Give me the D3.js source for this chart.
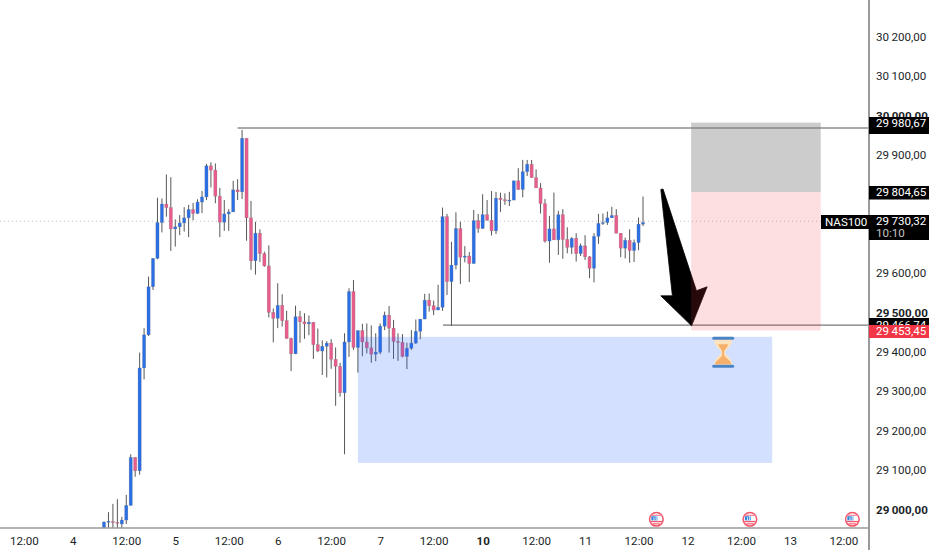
<!DOCTYPE html>
<html><head><meta charset="utf-8">
<script src="https://cdn.jsdelivr.net/npm/d3@7/dist/d3.min.js"></script>
<style>html,body{margin:0;padding:0;background:#fff;overflow:hidden}svg{display:block}text{font-family:Roboto,sans-serif}</style>
</head><body><svg id="c" width="932" height="550"></svg>
<script>
const opens=[28952,28967,28968,28966,28962,28972,29009,29131,29097,29358,29442,29564,29636,29727,29774,29765,29711,29716,29726,29739,29760,29750,29779,29792,29871,29860,29794,29728,29749,29754,29810,29805,29941,29739,29630,29700,29648,29617,29499,29484,29517,29478,29433,29394,29488,29475,29470,29474,29417,29401,29413,29421,29380,29362,29295,29424,29552,29410,29453,29424,29409,29393,29398,29464,29492,29459,29425,29423,29387,29408,29421,29451,29482,29530,29516,29505,29512,29742,29577,29619,29712,29639,29642,29623,29732,29712,29747,29733,29706,29789,29785,29782,29784,29833,29811,29856,29875,29841,29815,29775,29680,29711,29683,29747,29684,29664,29687,29648,29668,29640,29611,29692,29725,29727,29739,29745,29700,29662,29682,29656,29676,29723];
const closes=[28967,28969,28966,28964,28972,29009,29131,29097,29358,29442,29564,29636,29727,29774,29765,29711,29716,29726,29739,29760,29750,29779,29792,29871,29860,29794,29728,29749,29754,29810,29805,29941,29739,29630,29700,29648,29617,29499,29484,29517,29478,29433,29394,29488,29475,29470,29474,29417,29401,29413,29421,29380,29362,29295,29424,29552,29410,29453,29424,29409,29393,29398,29464,29492,29459,29425,29423,29387,29408,29421,29451,29482,29530,29516,29505,29512,29742,29577,29619,29712,29639,29642,29623,29732,29712,29747,29733,29706,29789,29785,29782,29784,29833,29811,29856,29875,29841,29815,29775,29680,29711,29683,29747,29684,29664,29687,29648,29668,29640,29611,29692,29725,29727,29739,29745,29700,29662,29682,29656,29676,29723,29727];
const highs=[28968,28992,29013,29025,28980,29036,29139,29131,29397,29459,29590,29637,29790,29788,29849,29842,29735,29746,29766,29772,29777,29786,29807,29876,29880,29877,29815,29784,29761,29833,29837,29962,29941,29782,29729,29710,29653,29669,29509,29573,29545,29503,29435,29516,29503,29497,29491,29474,29458,29428,29426,29431,29410,29371,29446,29560,29581,29453,29470,29471,29466,29446,29471,29501,29515,29480,29446,29444,29422,29454,29481,29482,29546,29547,29529,29569,29765,29749,29678,29753,29729,29667,29652,29759,29749,29799,29784,29807,29805,29803,29801,29805,29833,29865,29886,29886,29886,29862,29827,29787,29744,29803,29757,29761,29715,29690,29700,29674,29695,29642,29700,29749,29750,29755,29767,29761,29700,29689,29710,29684,29740,29793];
const lows=[28945,28945,28940,28940,28952,28962,29009,29082,29087,29329,29439,29556,29634,29702,29742,29655,29666,29695,29704,29690,29733,29749,29751,29784,29816,29776,29690,29706,29706,29754,29784,29787,29681,29607,29595,29627,29615,29486,29423,29459,29463,29432,29350,29393,29422,29432,29441,29381,29398,29340,29334,29356,29262,29285,29139,29386,29404,29346,29388,29395,29371,29375,29393,29454,29397,29381,29376,29385,29355,29404,29419,29431,29482,29501,29492,29505,29503,29543,29465,29608,29571,29626,29576,29623,29701,29711,29732,29694,29698,29754,29772,29769,29784,29810,29791,29845,29841,29815,29750,29676,29625,29683,29645,29635,29649,29647,29628,29642,29632,29586,29575,29673,29721,29721,29739,29700,29639,29636,29625,29627,29657,29718];
const visiblePriceTicks=[30200,30100,30000,29900,29600,29500,29400,29300,29200,29100,29000];
const boldPrices=[30000,29500,29000];
const timeTickIdx=[-18,-7,5,16,28,39,51,62,74,85,97,108,120,131,143,154,166];
const timeTickLabels=["12:00","4","12:00","5","12:00","6","12:00","7","12:00","10","12:00","11","12:00","12","12:00","13","12:00"];
const boldTimes=["10"];
const earningsIdx=[124,145,168];
const takeProfit=29453.45, entry=29804.65, stop=29980.67, last=29730.32, hidden=29466.74, upperLine=29967;
const zoneTop=29437, zoneBottom=29117;
const arrowPts=[[125,29811],[125.5,29812],[133,29554],[135.4,29564],[131.9,29465],[125,29541],[127.6,29541]];

const W=932,H=550,plotR=869,plotB=528;
const FONT='Roboto,sans-serif',FS=11.6,LS='0px';
const x=d3.scaleLinear().domain([0,121]).range([104,643]);
const y=d3.scaleLinear().domain([29000,30200]).range([509,36.2]);
const svg=d3.select('#c');
const fmt=v=>{const s=v.toFixed(2).replace('.',',');return s.slice(0,2)+'\u2009'+s.slice(2);};
svg.append('defs').append('clipPath').attr('id','pl').append('rect').attr('width',plotR).attr('height',plotB);
const p=svg.append('g').attr('clip-path','url(#pl)');
p.append('line').attr('x1',0).attr('x2',plotR).attr('y1',y(last)).attr('y2',y(last)).attr('stroke','#c4c4c8').attr('stroke-width',1).attr('stroke-dasharray','1 3');
const idx=d3.range(opens.length);
const c=p.append('g').selectAll('g').data(idx).join('g');
c.append('line').attr('x1',i=>x(i)).attr('x2',i=>x(i)).attr('y1',i=>y(highs[i])).attr('y2',i=>y(lows[i])).attr('stroke','#565658').attr('stroke-width',1);
c.append('rect').attr('x',i=>x(i)-1.6).attr('width',3.2)
 .attr('y',i=>y(Math.max(opens[i],closes[i])))
 .attr('height',i=>Math.max(1,Math.abs(y(opens[i])-y(closes[i]))))
 .attr('fill',i=>closes[i]>=opens[i]?'#2b6fe6':'#e85c8e')
 .attr('stroke','rgba(110,110,110,.45)').attr('stroke-width',.5);
p.append('line').attr('x1',x(30)).attr('x2',plotR).attr('y1',y(upperLine)).attr('y2',y(upperLine)).attr('stroke','#555').attr('stroke-width',1);
p.append('line').attr('x1',x(76.1)).attr('x2',plotR).attr('y1',y(hidden)).attr('y2',y(hidden)).attr('stroke','#555').attr('stroke-width',1);
p.append('polygon').attr('points',arrowPts.map(d=>[x(d[0]),y(d[1])].join(',')).join(' ')).attr('fill','#000').attr('stroke','#000').attr('stroke-width',.8).attr('stroke-linejoin','round');
const zx0=x(131.8),zx1=x(160.9);
p.append('rect').attr('x',zx0).attr('width',zx1-zx0).attr('y',y(stop)).attr('height',y(entry)-y(stop)).attr('fill','rgba(120,120,120,.38)');
p.append('rect').attr('x',zx0).attr('width',zx1-zx0).attr('y',y(entry)).attr('height',y(takeProfit)-y(entry)).attr('fill','rgba(242,54,69,.16)');
p.append('rect').attr('x',x(57)).attr('width',x(150)-x(57)).attr('y',y(zoneTop)).attr('height',y(zoneBottom)-y(zoneTop)).attr('fill','rgba(41,98,255,.2)');
const hg=p.append('g').attr('transform',`translate(${x(139.0)},${y(29398)})`);
hg.append('path').attr('d','M-9,-13 H9 C9,-5 2,-3 2,0 C2,3 9,6 9,13 H-9 C-9,6 -2,3 -2,0 C-2,-3 -9,-5 -9,-13Z').attr('fill','#fde3bd');
hg.append('path').attr('d','M-5,-8 H5 C4,-4 1,-3 1,0 L1,3 C2,6 8,8 8,12 H-8 C-8,8 -2,6 -1,3 L-1,0 C-1,-3 -4,-4 -5,-8Z').attr('fill','#f7b06b');
hg.append('rect').attr('x',-11).attr('y',-15.5).attr('width',22).attr('height',3).attr('rx',1.5).attr('fill','#4a84c4');
hg.append('rect').attr('x',-11).attr('y',12.5).attr('width',22).attr('height',3).attr('rx',1.5).attr('fill','#4a84c4');
const e=p.append('g').selectAll('g').data(earningsIdx).join('g').attr('transform',d=>`translate(${x(d)},519.3)`);
e.append('circle').attr('r',6.8).attr('fill','#fff').attr('stroke','#f4556a').attr('stroke-width',1.5);
e.append('rect').attr('x',-5.4).attr('y',-4.6).attr('width',10.8).attr('height',1.2).attr('fill','#f4869a');
e.append('rect').attr('x',-5.6).attr('y',1.6).attr('width',11.2).attr('height',1.3).attr('fill','#f4556a');
e.append('rect').attr('x',-3.6).attr('y',4).attr('width',7.2).attr('height',1.1).attr('fill','#f4556a');
e.append('rect').attr('x',-5).attr('y',-3).attr('width',6).attr('height',4).attr('fill','#2f7fd8');
e.append('rect').attr('x',-3).attr('y',-2).attr('width',1.2).attr('height',3).attr('fill','#cfe4fb');
e.append('rect').attr('x',-.8).attr('y',-3.5).attr('width',1.2).attr('height',4.5).attr('fill','#cfe4fb');
svg.append('line').attr('x1',0).attr('x2',plotR).attr('y1',plotB).attr('y2',plotB).attr('stroke','#9a9a9a').attr('stroke-width',1.4);
svg.append('line').attr('x1',plotR).attr('x2',plotR).attr('y1',0).attr('y2',H).attr('stroke','#9a9a9a').attr('stroke-width',2);
const ax=svg.append('g').attr('transform',`translate(0,${plotB})`).call(d3.axisBottom(x).tickValues(timeTickIdx).tickSize(0).tickPadding(5).tickFormat((d,i)=>timeTickLabels[i]));
ax.select('.domain').remove();
ax.selectAll('text').attr('font-family',FONT).attr('font-size',FS).attr('letter-spacing',LS).attr('fill','#1c1f28').attr('dy','1.05em').attr('font-weight',(d,i)=>boldTimes.includes(timeTickLabels[i])?700:400);
const ay=svg.append('g').attr('transform',`translate(${plotR},0)`).call(d3.axisRight(y).tickValues(visiblePriceTicks).tickSize(0).tickPadding(7).tickFormat(fmt));
ay.select('.domain').remove();
ay.selectAll('text').attr('font-family',FONT).attr('font-size',FS).attr('letter-spacing',LS).attr('fill','#1c1f28').attr('dy','0.36em').attr('font-weight',d=>boldPrices.includes(d)?700:400);
function tag(v,yTop,h,fill){
  const g=svg.append('g');
  g.append('rect').attr('x',plotR).attr('y',yTop).attr('width',60).attr('height',h).attr('fill',fill);
  g.append('text').attr('x',plotR+7).attr('y',y(v)+4.2).attr('font-size',FS).attr('letter-spacing',LS).attr('fill','#fff').text(fmt(v));
  return g;
}
tag(stop,117,17,'#000');
tag(entry,186,13.5,'#000');
tag(hidden,318,8,'#000');
tag(takeProfit,325,13,'#f23645');
const lg=tag(last,215,25,'#000');
lg.append('text').attr('x',plotR+7).attr('y',237).attr('font-size',FS).attr('fill','#c4c4c4').text('10:10');
svg.append('rect').attr('x',821).attr('y',215).attr('width',48).attr('height',14).attr('fill','#000');
svg.append('text').attr('x',825).attr('y',226).attr('font-size',FS).attr('letter-spacing',LS).attr('fill','#fff').text('NAS100');
</script></body></html>
